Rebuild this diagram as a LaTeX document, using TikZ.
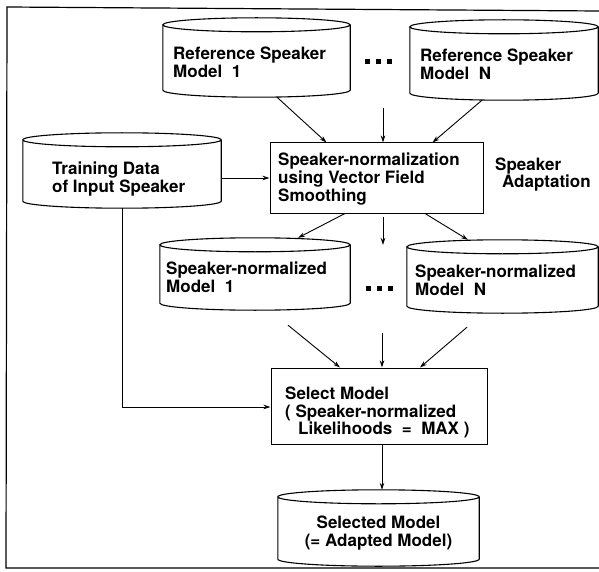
\documentclass[tikz,border=0pt]{standalone}
\usepackage{fontspec}
\setmainfont{TeX Gyre Heros}
\usetikzlibrary{arrows.meta,calc}
\newcommand\sqdots{\rule{5pt}{5pt}\hspace{6pt}\rule{5pt}{5pt}\hspace{6pt}\rule{5pt}{5pt}}
\newcommand\drawcyl[1]{%
  \draw[cylline] let \p1=(#1.north west), \p2=(#1.south east), \n1={(\x2-\x1)/2} in
    (\x1,\y1-7pt) -- (\x1,\y2+7pt)
    arc[start angle=180,end angle=360,x radius=\n1,y radius=7pt]
    -- (\x2,\y1-7pt)
    arc[start angle=0,end angle=180,x radius=\n1,y radius=7pt]
    arc[start angle=180,end angle=360,x radius=\n1,y radius=7pt];}
\begin{document}
\begin{tikzpicture}[x=1pt,y=-1pt,
  cylbox/.style={rectangle,draw=none,inner sep=0pt},
  cylline/.style={line width=1.1pt},
  procbox/.style={rectangle,draw,line width=1pt,inner sep=0pt},
  txt/.style={font=\bfseries\fontsize{17}{17.8}\selectfont,align=left,inner sep=0pt,anchor=west},
  arr/.style={-{Stealth[length=7pt,width=4.5pt]},line width=0.9pt},
  frame/.style={line width=1.2pt}]
\useasboundingbox (0,0) rectangle (599,572);
% frame
\draw[frame] (599,11) -- (7,7) -- (6,568) -- (599,568);
% cylinders
\node[cylbox,minimum width=187pt,minimum height=79pt] (rs1) at (256.5,57.5) {};
\node[cylbox,minimum width=188pt,minimum height=80pt] (rsn) at (504,60) {};
\node[cylbox,minimum width=198pt,minimum height=75pt] (td) at (122,170.5) {};
\node[cylbox,minimum width=190pt,minimum height=72pt] (sn1) at (255,274) {};
\node[cylbox,minimum width=191pt,minimum height=73pt] (snn) at (502.5,276.5) {};
\node[cylbox,minimum width=201pt,minimum height=76pt] (out) at (378.5,528) {};
\drawcyl{rs1}
\drawcyl{rsn}
\drawcyl{td}
\drawcyl{sn1}
\drawcyl{snn}
\drawcyl{out}
% boxes
\node[procbox,minimum width=213pt,minimum height=70pt] (norm) at (376.5,178) {};
\node[procbox,minimum width=216pt,minimum height=76pt] (sel) at (379,406) {};
% texts
\node[txt] (rs1t) at (173,62) {Reference Speaker\\Model~~1};
\node[txt] (rsnt) at (420,64) {Reference Speaker\\Model~~N};
\node[txt] (tdt) at (52,179) {Training Data\\of Input Speaker};
\node[txt] (normt) at (278,179) {Speaker-normalization\\using Vector Field\\Smoothing};
\node[txt] (adapt) at (495,174.5) {Speaker\\\hspace{7pt}Adaptation};
\node[txt] (sn1t) at (166,277) {Speaker-normalized\\Model~~1};
\node[txt] (snnt) at (415,280) {Speaker-normalized\\Model~~N};
\node[txt] (selt) at (285,412.5) {Select Model\\( Speaker-normalized\\\hspace{13pt}Likelihoods~~=~~MAX )};
\node[txt,align=center,anchor=center] (outt) at (378.5,533) {Selected Model\\(= Adapted Model)};
% dots
\node[inner sep=0pt] (dots1) at (378,62) {\sqdots};
\node[inner sep=0pt] (dots2) at (379,288) {\sqdots};
% free arrow ends
\coordinate (m1) at (383,108);
\coordinate (m2a) at (383,217);
\coordinate (m2b) at (383,245);
\coordinate (m3) at (382,333);
% connectors
\draw[arr] ([xshift=20.5pt]rs1.south) -- ([xshift=-50pt]norm.north);
\draw[arr] (m1) -- (m1 |- norm.north);
\draw[arr] ([xshift=-22pt]rsn.south) -- ([xshift=56pt]norm.north);
\draw[arr] (td.east |- norm.west) -- (norm.west);
\draw[arr] ([xshift=-31.5pt]norm.south) -- ([xshift=43pt]sn1.north);
\draw[arr] (m2a) -- (m2b);
\draw[arr] ([xshift=48.5pt]norm.south) -- ([xshift=-34.5pt]snn.north);
\draw[arr] ([xshift=33pt,yshift=-15pt]sn1.south) -- ([xshift=-39pt]sel.north);
\draw[arr] (m3) -- (m3 |- sel.north);
\draw[arr] ([xshift=-35.5pt,yshift=-14pt]snn.south) -- ([xshift=41pt]sel.north);
\draw[arr] (td.south) |- ([yshift=-1pt]sel.west);
\draw[arr] ([xshift=3pt]sel.south) -- ([xshift=3pt]sel.south |- out.north);
\end{tikzpicture}
\end{document}
